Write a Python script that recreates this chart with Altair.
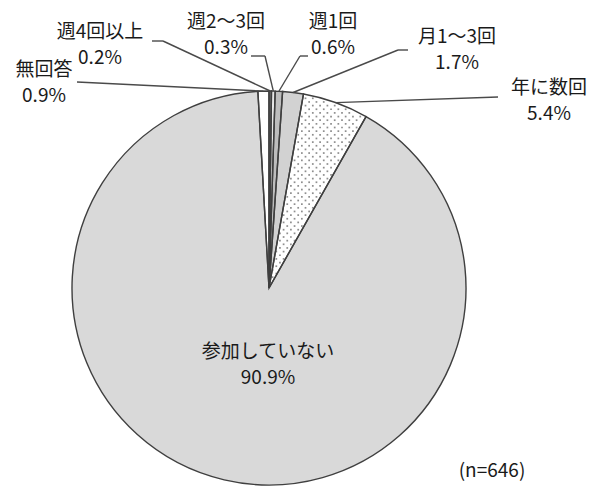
import math
import altair as alt
import pandas as pd

# Participation frequency (n=646), clockwise from 12 o'clock
categories = ["週4回以上", "週2〜3回", "週1回", "月1〜3回", "年に数回", "参加していない", "無回答"]
values = [0.2, 0.3, 0.6, 1.7, 5.4, 90.9, 0.9]
fills = ["#7a7a7a", "#e6e6e6", "#bdbdbd", "#d2d2d2", "#ffffff", "#d9d9d9", "#ffffff"]

# Label placement: text centre and first-line y; leader elbow and tail points
label_x = [100, 226, 333, 457, 549, 268, 44]
label_y = [32, 22, 22, 37, 88, 352, 70]
elbow_x = [163, 265, 300, 398, 498, None, 77]
elbow_y = [41, 56, 56, 50, 97, None, 82]
tail_x = [152, 251, 308, 408, 498, None, 77]
tail_y = [41, 56, 56, 50, 97, None, 82]

W, H = 592, 486
CX, CY, R = 269, 288, 197
FONT = "Noto Sans CJK JP"
LINE = "#3f3f3f"

table = pd.DataFrame({
    "idx": list(range(len(categories))),
    "category": categories,
    "value": values,
    "pct": [f"{v}%" for v in values],
    "label_x": label_x,
    "label_y": label_y,
    "label_y2": [y + 26 for y in label_y],
    "elbow_x": elbow_x,
    "elbow_y": elbow_y,
    "tail_x": tail_x,
    "tail_y": tail_y,
})

base = alt.Chart(table)

pie_fill = base.mark_arc(radius=R, strokeWidth=0).encode(
    theta=alt.Theta("value:Q", stack=True),
    order=alt.Order("idx:Q"),
    color=alt.Color("category:N", scale=alt.Scale(domain=categories, range=fills), legend=None),
    x=alt.value(CX),
    y=alt.value(CY),
)

# Dot texture for the 年に数回 wedge
total = sum(values)
a0 = sum(values[:4]) / total * 2 * math.pi
a1 = sum(values[:5]) / total * 2 * math.pi
DX, DY, NX, NY = 7.3, 3.65, 16, 56
dots = (
    alt.Chart(alt.sequence(0, NX * NY, as_="k"))
    .transform_calculate(i=f"datum.k % {NX}", j=f"floor(datum.k / {NX})")
    .transform_calculate(
        px=f"{CX} + datum.i * {DX} + (datum.j % 2) * {DX / 2}",
        py=f"{CY - R} + datum.j * {DY}",
    )
    .transform_calculate(
        ang=f"atan2(datum.px - {CX}, {CY} - datum.py)",
        rr=f"sqrt(pow(datum.px - {CX}, 2) + pow({CY} - datum.py, 2))",
    )
    .transform_filter(
        f"datum.ang > {a0 + 0.012} && datum.ang < {a1 - 0.012} && datum.rr < {R - 2} && datum.rr > 6"
    )
    .mark_square(size=3, color="#8f8f8f", opacity=1)
    .encode(x=alt.X("px:Q", scale=None), y=alt.Y("py:Q", scale=None))
)

pie_edge = base.mark_arc(radius=R, fillOpacity=0, stroke=LINE, strokeWidth=1.4).encode(
    theta=alt.Theta("value:Q", stack=True),
    order=alt.Order("idx:Q"),
    detail="category:N",
    x=alt.value(CX),
    y=alt.value(CY),
)

leader_base = (
    base.transform_joinaggregate(total="sum(value)")
    .transform_window(cum="sum(value)", sort=[alt.SortField("idx")], frame=[None, 0])
    .transform_calculate(mid="(datum.cum - datum.value / 2) / datum.total * 2 * PI")
    .transform_calculate(
        ex=f"{CX} + {R} * sin(datum.mid)",
        ey=f"{CY} - {R} * cos(datum.mid)",
    )
    .transform_filter("isValid(datum.elbow_x)")
)

leader_a = leader_base.mark_rule(color="#4a4a4a", strokeWidth=1.4).encode(
    x=alt.X("ex:Q", scale=None),
    y=alt.Y("ey:Q", scale=None),
    x2="elbow_x:Q",
    y2="elbow_y:Q",
)
leader_b = leader_base.mark_rule(color="#4a4a4a", strokeWidth=1.4).encode(
    x=alt.X("elbow_x:Q", scale=None),
    y=alt.Y("elbow_y:Q", scale=None),
    x2="tail_x:Q",
    y2="tail_y:Q",
)

text_style = dict(font=FONT, fontSize=19, color="#1a1a1a", align="center", baseline="middle")
name_text = base.mark_text(**text_style).encode(
    x=alt.X("label_x:Q", scale=None), y=alt.Y("label_y:Q", scale=None), text="category:N"
)
pct_text = base.mark_text(**text_style).encode(
    x=alt.X("label_x:Q", scale=None), y=alt.Y("label_y2:Q", scale=None), text="pct:N"
)

note = alt.Chart(pd.DataFrame({"t": ["(n=646)"]})).mark_text(**text_style).encode(
    x=alt.value(492), y=alt.value(471), text="t:N"
)

chart = (
    alt.layer(pie_fill, dots, pie_edge, leader_a, leader_b, name_text, pct_text, note)
    .properties(width=W, height=H, autosize="none", padding=0, background="white")
    .configure_view(stroke=None)
)

chart.save("out.html", embed_options={"renderer": "svg", "actions": False})
